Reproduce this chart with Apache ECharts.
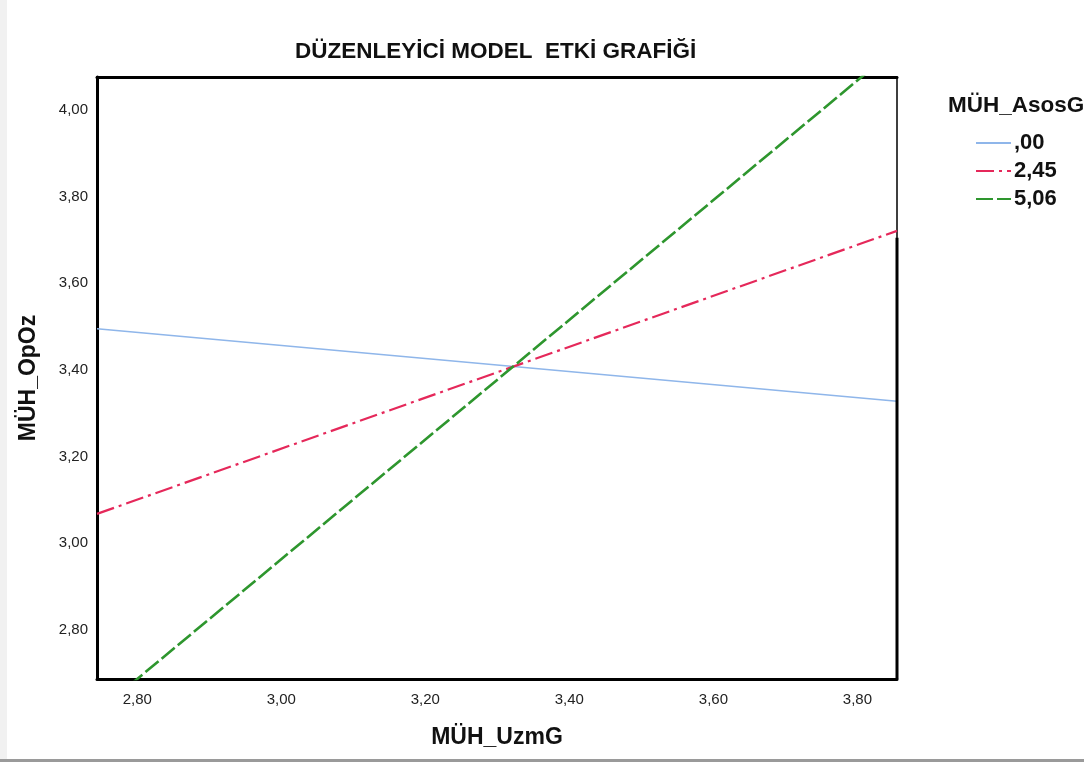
<!DOCTYPE html>
<html>
<head>
<meta charset="utf-8">
<script src="https://cdn.jsdelivr.net/npm/echarts@6/dist/echarts.min.js"></script>
<style>
html,body{margin:0;padding:0;background:#fff;}
#wrap{position:relative;width:1084px;height:762px;overflow:hidden;}
#chart{position:absolute;left:0;top:0;width:1084px;height:762px;}
#lstrip{position:absolute;left:0;top:0;width:7px;height:762px;background:#f1f1f1;z-index:2;}
#bline{position:absolute;left:0;top:759px;width:1084px;height:3px;background:#9a9a9a;z-index:2;}
</style>
</head>
<body>
<div id="wrap"><div id="chart"></div><div id="lstrip"></div><div id="bline"></div></div>
<script>
// ---- data ----
const chartTitle = 'DÜZENLEYİCİ MODEL  ETKİ GRAFİĞİ';
const legendTitle = 'MÜH_AsosG';
const xName = 'MÜH_UzmG';
const yName = 'MÜH_OpOz';
const seriesNames = [',00', '2,45', '5,06'];
const xValues = [2.744, 3.855];
const yLow = [3.495, 3.328];      // ,00
const yMid = [3.068, 3.721];      // 2,45
const yHigh = [2.610, 4.144];     // 5,06
const xTicks = [2.8, 3.0, 3.2, 3.4, 3.6, 3.8];
const yTicks = [2.8, 3.0, 3.2, 3.4, 3.6, 3.8, 4.0];
const xRange = [2.744, 3.855];
const yRange = [2.687, 4.076];

const fmt = v => Number(v).toFixed(2).replace('.', ',');
const pair = ys => xValues.map((x, i) => [x, ys[i]]);
const FONT = '"Liberation Sans", Arial, sans-serif';

const chart = echarts.init(document.getElementById('chart'));
const option = {
  animation: false,
  backgroundColor: '#fff',
  textStyle: {fontFamily: FONT},
  title: [
    {text: chartTitle, left: 295, top: 40, padding: 0,
     textStyle: {fontFamily: FONT, fontSize: 22.5, fontWeight: 'bold', color: '#111'}},
    {text: legendTitle, left: 948, top: 94, padding: 0,
     textStyle: {fontFamily: FONT, fontSize: 22.5, fontWeight: 'bold', color: '#111'}}
  ],
  legend: {
    orient: 'vertical', left: 975, top: 132, padding: 0,
    itemWidth: 35, itemHeight: 14, itemGap: 6,
    itemStyle: {opacity: 0},
    textStyle: {fontFamily: FONT, fontSize: 22, fontWeight: 'bold', color: '#111', padding: [0, 0, 0, -2]},
    data: seriesNames
  },
  grid: {left: 97, right: 187, top: 77, bottom: 83, show: true, borderColor: '#000', borderWidth: 1.5, backgroundColor: '#fff'},
  xAxis: [{
    type: 'value', min: xRange[0], max: xRange[1], position: 'bottom',
    name: xName, nameLocation: 'middle', nameGap: 47,
    nameTextStyle: {fontFamily: FONT, fontSize: 23, fontWeight: 'bold', color: '#111'},
    axisLine: {show: true, onZero: false, lineStyle: {color: '#000', width: 3}},
    axisTick: {show: false},
    splitLine: {show: false},
    axisLabel: {customValues: xTicks, formatter: fmt, margin: 13,
      fontFamily: FONT, fontSize: 15, color: '#222'}
  }, {
    type: 'value', min: xRange[0], max: xRange[1], position: 'top',
    axisLine: {show: true, onZero: false, lineStyle: {color: '#000', width: 3}},
    axisTick: {show: false}, axisLabel: {show: false}, splitLine: {show: false}
  }],
  yAxis: {
    type: 'value', min: yRange[0], max: yRange[1],
    name: yName, nameLocation: 'middle', nameGap: 57, nameRotate: 90,
    nameTextStyle: {fontFamily: FONT, fontSize: 23, fontWeight: 'bold', color: '#111'},
    axisLine: {show: true, onZero: false, lineStyle: {color: '#000', width: 3}},
    axisTick: {show: false},
    splitLine: {show: false},
    axisLabel: {customValues: yTicks, formatter: fmt, margin: 9,
      fontFamily: FONT, fontSize: 15, color: '#222'}
  },
  series: [
    {name: seriesNames[0], type: 'line', data: pair(yLow), symbol: 'none', clip: true,
     lineStyle: {color: '#8fb6ea', width: 1.4, type: 'solid'}, itemStyle: {color: '#8fb6ea'}, z: 3},
    {name: seriesNames[1], type: 'line', data: pair(yMid), symbol: 'none', clip: true,
     lineStyle: {color: '#e5285a', width: 2.2, type: [18, 5, 3, 5]}, itemStyle: {color: '#e5285a'}, z: 4},
    {name: seriesNames[2], type: 'line', data: pair(yHigh), symbol: 'none', clip: true,
     lineStyle: {color: '#2e962e', width: 2.6, type: [17, 4]}, itemStyle: {color: '#2e962e'}, z: 5}
  ]
};
chart.setOption(option);

// decorative thick segment on the lower part of the right frame
const pTop = chart.convertToPixel({gridIndex: 0}, [xRange[1], 3.705]);
const pBot = chart.convertToPixel({gridIndex: 0}, [xRange[1], yRange[0]]);
chart.setOption({
  graphic: [{type: 'line', shape: {x1: pTop[0], y1: pTop[1], x2: pBot[0], y2: pBot[1]},
    style: {stroke: '#000', lineWidth: 3}, z: 10}]
});
</script>
</body>
</html>
